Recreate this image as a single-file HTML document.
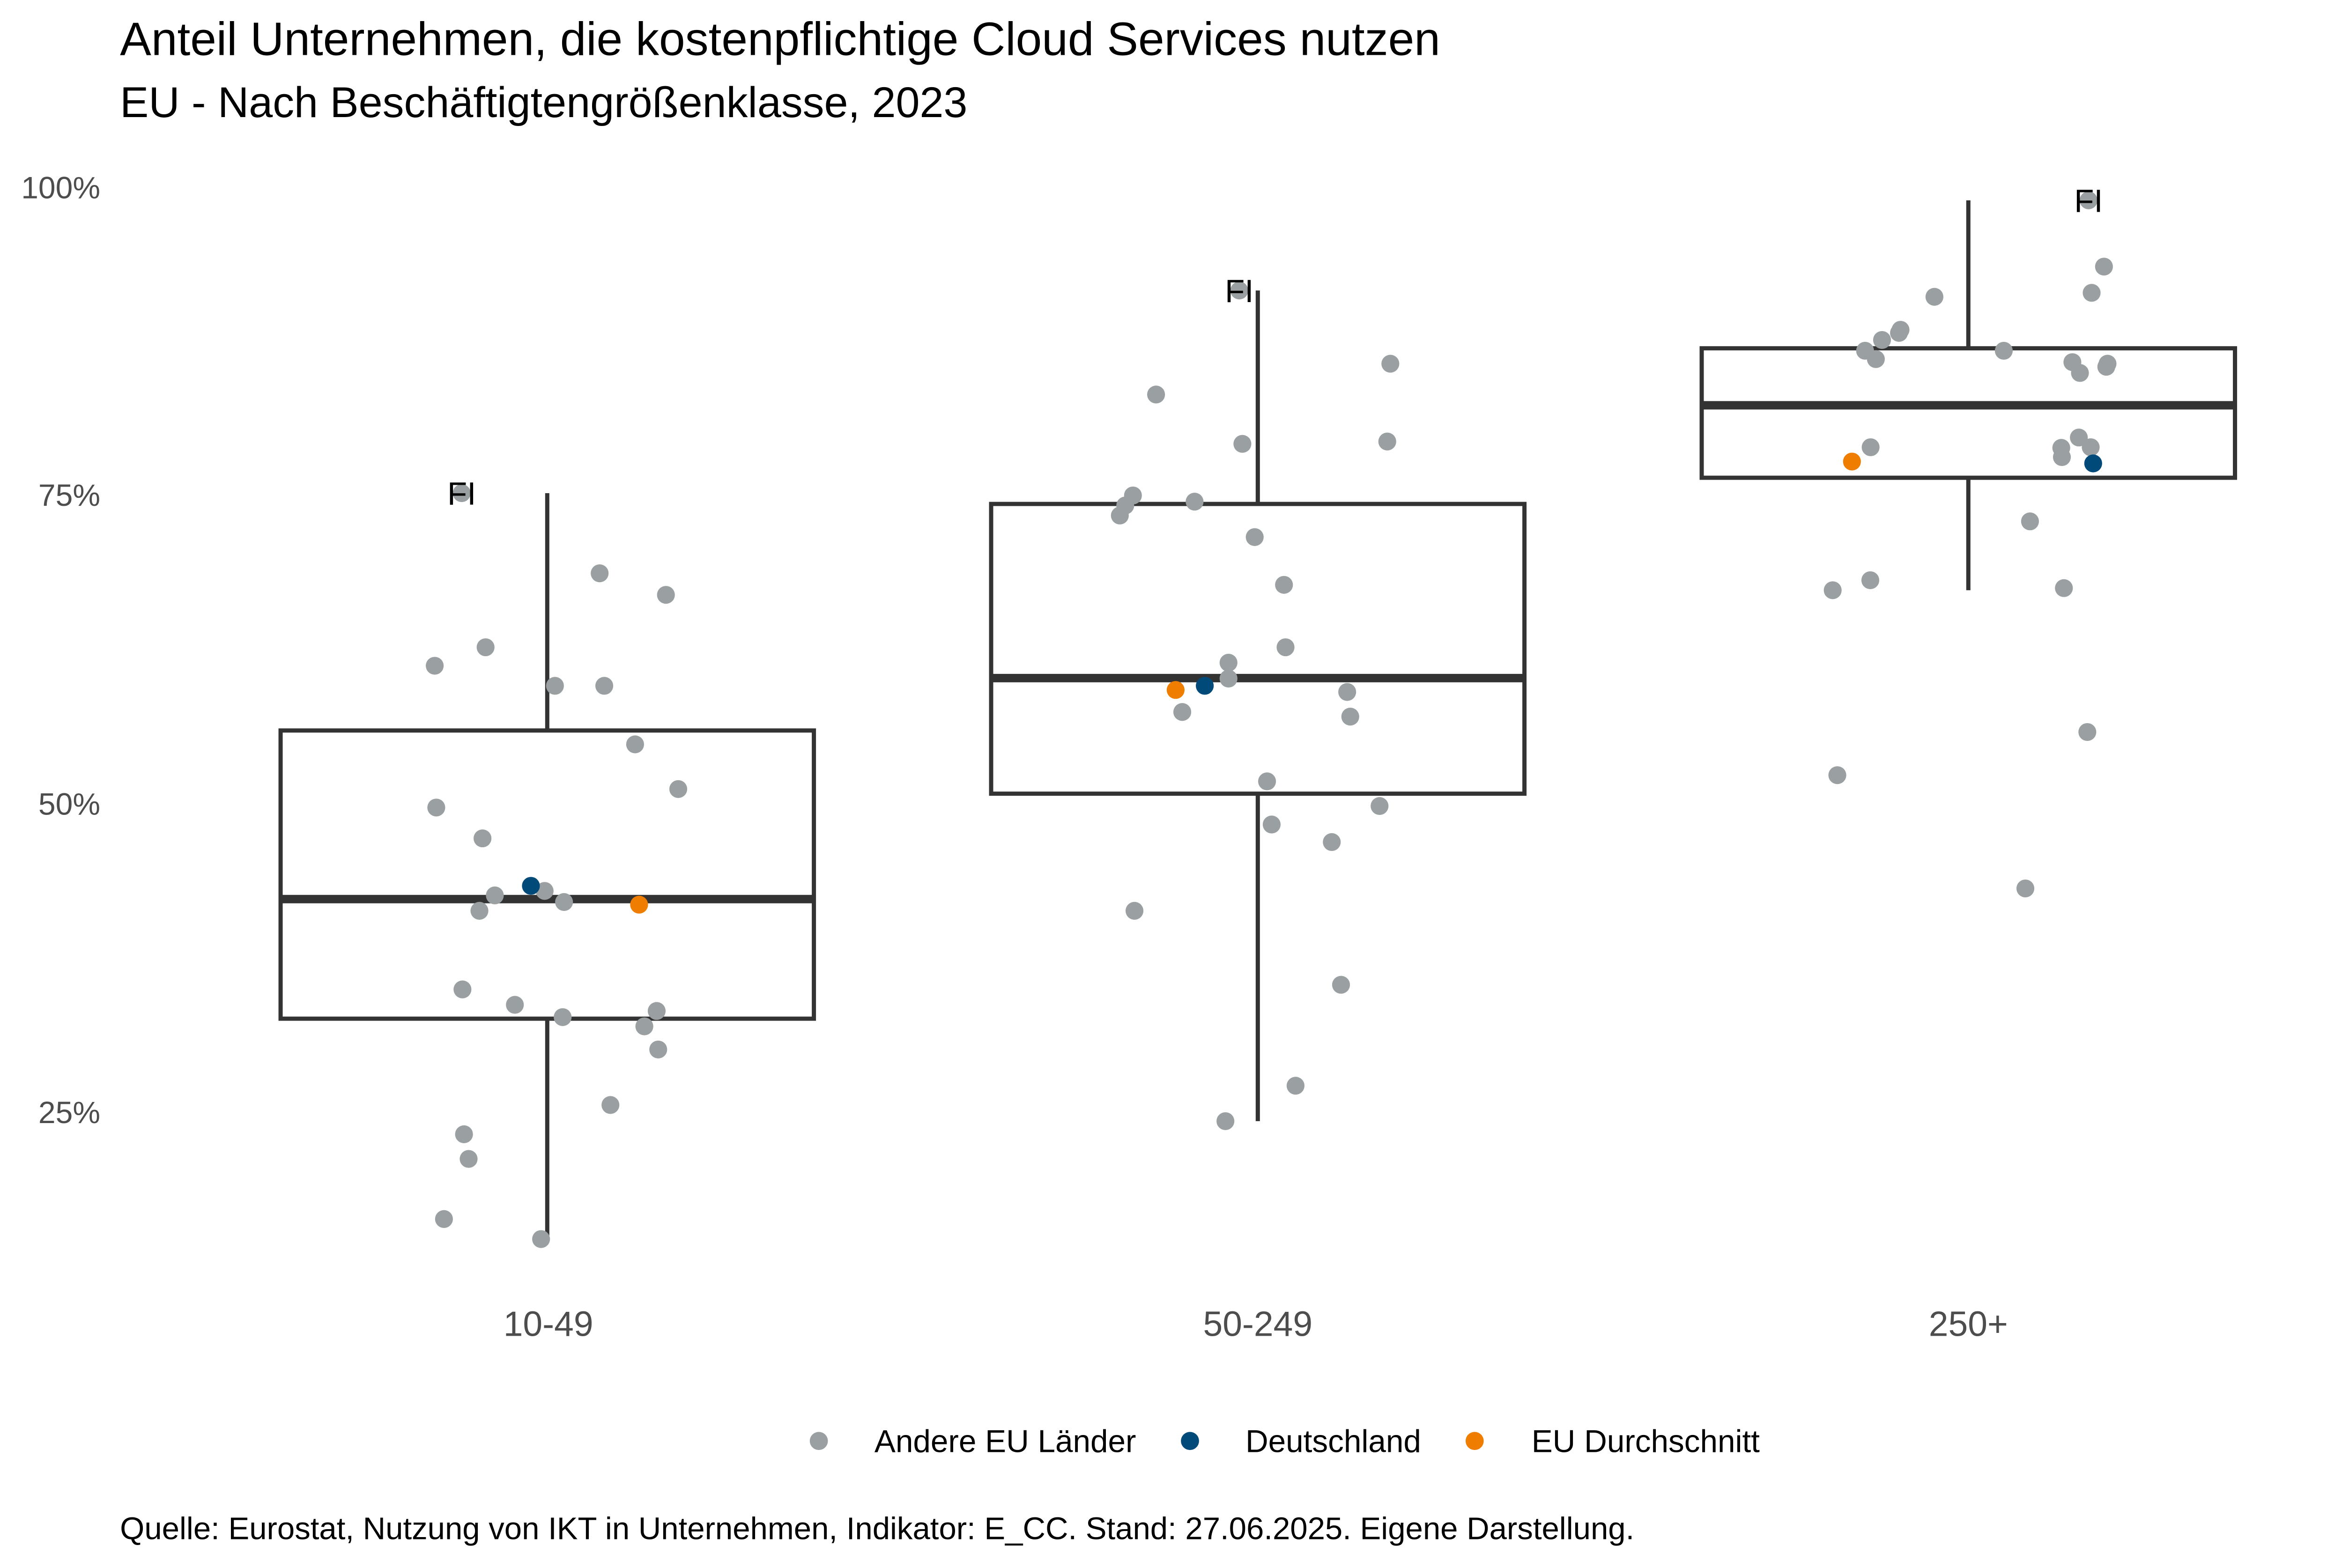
<!DOCTYPE html>
<html>
<head>
<meta charset="utf-8">
<style>
  html, body { margin: 0; padding: 0; background: #ffffff; overflow: hidden; }
  svg { display: block; }
  text { font-family: "Liberation Sans", Arial, sans-serif; }
</style>
</head>
<body>
<svg xmlns="http://www.w3.org/2000/svg" width="5160" height="3348" viewBox="0 0 1568 1017.44">
  <rect x="0" y="0" width="1568" height="1017.44" fill="#ffffff"/>

  <!-- Title / subtitle -->
  <text x="77.8" y="35.7" font-size="30.4" fill="#000000">Anteil Unternehmen, die kostenpflichtige Cloud Services nutzen</text>
  <text x="77.8" y="76.0" font-size="27.87" fill="#000000">EU - Nach Beschäftigtengrößenklasse, 2023</text>

  <!-- Y axis tick labels -->
  <g font-size="20.06" fill="#4d4d4d" text-anchor="end">
    <text x="65" y="128.7">100%</text>
    <text x="65" y="328.2">75%</text>
    <text x="65" y="528.7">50%</text>
    <text x="65" y="728.7">25%</text>
  </g>

  <!-- X axis labels -->
  <g font-size="22.8" fill="#4d4d4d" text-anchor="middle">
    <text x="355.7" y="866.9">10-49</text>
    <text x="816" y="866.9">50-249</text>
    <text x="1277" y="866.9">250+</text>
  </g>

  <!-- Boxplots -->
  <g stroke="#333333" stroke-width="2.73" fill="none">
    <!-- 10-49 -->
    <line x1="355" y1="320" x2="355" y2="474"/>
    <line x1="355" y1="661" x2="355" y2="804"/>
    <rect x="182" y="474" width="346" height="187" fill="#ffffff"/>
    <!-- 50-249 -->
    <line x1="816" y1="188.5" x2="816" y2="327"/>
    <line x1="816" y1="515" x2="816" y2="727.5"/>
    <rect x="643" y="327" width="346" height="188" fill="#ffffff"/>
    <!-- 250+ -->
    <line x1="1277" y1="130" x2="1277" y2="226"/>
    <line x1="1277" y1="310" x2="1277" y2="383"/>
    <rect x="1104" y="226" width="346" height="84" fill="#ffffff"/>
  </g>
  <g stroke="#333333" stroke-width="5.47">
    <line x1="182" y1="583.4" x2="528" y2="583.4"/>
    <line x1="643" y1="440" x2="989" y2="440"/>
    <line x1="1104" y1="263" x2="1450" y2="263"/>
  </g>

  <!-- Gray points: Andere EU Länder -->
  <g fill="#9a9fa1">
    <!-- 10-49 -->
    <circle cx="299.5" cy="320" r="5.8"/>
    <circle cx="389" cy="372" r="5.8"/>
    <circle cx="432" cy="386" r="5.8"/>
    <circle cx="315" cy="420" r="5.8"/>
    <circle cx="282" cy="432" r="5.8"/>
    <circle cx="360" cy="445" r="5.8"/>
    <circle cx="392" cy="445" r="5.8"/>
    <circle cx="412" cy="483" r="5.8"/>
    <circle cx="440" cy="512" r="5.8"/>
    <circle cx="283" cy="524" r="5.8"/>
    <circle cx="313" cy="544" r="5.8"/>
    <circle cx="353.3" cy="578.1" r="5.8"/>
    <circle cx="321" cy="581" r="5.8"/>
    <circle cx="365.9" cy="585.3" r="5.8"/>
    <circle cx="311" cy="591" r="5.8"/>
    <circle cx="300" cy="642" r="5.8"/>
    <circle cx="334" cy="652" r="5.8"/>
    <circle cx="365" cy="660" r="5.8"/>
    <circle cx="426" cy="656" r="5.8"/>
    <circle cx="418" cy="666" r="5.8"/>
    <circle cx="427" cy="681" r="5.8"/>
    <circle cx="396" cy="717" r="5.8"/>
    <circle cx="301" cy="736" r="5.8"/>
    <circle cx="304" cy="752" r="5.8"/>
    <circle cx="288" cy="791" r="5.8"/>
    <circle cx="351" cy="804" r="5.8"/>
    <!-- 50-249 -->
    <circle cx="804" cy="188.5" r="5.8"/>
    <circle cx="902" cy="236" r="5.8"/>
    <circle cx="750" cy="256" r="5.8"/>
    <circle cx="806" cy="288" r="5.8"/>
    <circle cx="900" cy="286.5" r="5.8"/>
    <circle cx="735" cy="321.5" r="5.8"/>
    <circle cx="730" cy="328" r="5.8"/>
    <circle cx="726.5" cy="334.5" r="5.8"/>
    <circle cx="775" cy="325.5" r="5.8"/>
    <circle cx="814" cy="348.5" r="5.8"/>
    <circle cx="833" cy="379.5" r="5.8"/>
    <circle cx="834" cy="420" r="5.8"/>
    <circle cx="797" cy="430" r="5.8"/>
    <circle cx="797" cy="440.3" r="5.8"/>
    <circle cx="767" cy="462" r="5.8"/>
    <circle cx="874" cy="449" r="5.8"/>
    <circle cx="876" cy="465" r="5.8"/>
    <circle cx="822" cy="507" r="5.8"/>
    <circle cx="895" cy="523" r="5.8"/>
    <circle cx="825" cy="535" r="5.8"/>
    <circle cx="864" cy="546.4" r="5.8"/>
    <circle cx="736" cy="591" r="5.8"/>
    <circle cx="870" cy="639" r="5.8"/>
    <circle cx="840.5" cy="704.5" r="5.8"/>
    <circle cx="795" cy="727.5" r="5.8"/>
    <!-- 250+ -->
    <circle cx="1355" cy="130" r="5.8"/>
    <circle cx="1365" cy="173" r="5.8"/>
    <circle cx="1357" cy="190" r="5.8"/>
    <circle cx="1255" cy="192.6" r="5.8"/>
    <circle cx="1232" cy="216" r="5.8"/>
    <circle cx="1233" cy="214" r="5.8"/>
    <circle cx="1221" cy="220.6" r="5.8"/>
    <circle cx="1210" cy="227.6" r="5.8"/>
    <circle cx="1217" cy="233" r="5.8"/>
    <circle cx="1300" cy="227.6" r="5.8"/>
    <circle cx="1344.5" cy="235" r="5.8"/>
    <circle cx="1349.4" cy="242" r="5.8"/>
    <circle cx="1367.3" cy="236" r="5.8"/>
    <circle cx="1366.5" cy="238" r="5.8"/>
    <circle cx="1213.6" cy="290.2" r="5.8"/>
    <circle cx="1348.7" cy="283.9" r="5.8"/>
    <circle cx="1337.3" cy="290.6" r="5.8"/>
    <circle cx="1337.7" cy="296.6" r="5.8"/>
    <circle cx="1356.4" cy="290.2" r="5.8"/>
    <circle cx="1317" cy="338.3" r="5.8"/>
    <circle cx="1213.4" cy="376.5" r="5.8"/>
    <circle cx="1189" cy="383" r="5.8"/>
    <circle cx="1339" cy="381.6" r="5.8"/>
    <circle cx="1354.2" cy="475" r="5.8"/>
    <circle cx="1192" cy="503" r="5.8"/>
    <circle cx="1314" cy="576.5" r="5.8"/>
  </g>

  <!-- Deutschland -->
  <g fill="#004a7a">
    <circle cx="344.4" cy="574.8" r="5.8"/>
    <circle cx="781.6" cy="445" r="5.8"/>
    <circle cx="1358" cy="300.7" r="5.8"/>
  </g>

  <!-- EU Durchschnitt -->
  <g fill="#ef7d00">
    <circle cx="414.6" cy="587" r="5.8"/>
    <circle cx="762.7" cy="447.7" r="5.8"/>
    <circle cx="1201.5" cy="299.5" r="5.8"/>
  </g>

  <!-- FI labels -->
  <g font-size="21" fill="#000000" text-anchor="middle">
    <text x="299.5" y="327.5">FI</text>
    <text x="804" y="196">FI</text>
    <text x="1355" y="137.5">FI</text>
  </g>

  <!-- Legend -->
  <circle cx="531.2" cy="935" r="5.88" fill="#9a9fa1"/>
  <text x="567.3" y="942.3" font-size="20.5" fill="#000000">Andere EU Länder</text>
  <circle cx="772" cy="935" r="5.88" fill="#004a7a"/>
  <text x="808" y="942.3" font-size="20.5" fill="#000000">Deutschland</text>
  <circle cx="956.7" cy="935" r="5.88" fill="#ef7d00"/>
  <text x="993.6" y="942.3" font-size="20.5" fill="#000000">EU Durchschnitt</text>

  <!-- Caption -->
  <text x="77.8" y="998.8" font-size="20.4" fill="#000000">Quelle: Eurostat, Nutzung von IKT in Unternehmen, Indikator: E_CC. Stand: 27.06.2025. Eigene Darstellung.</text>
</svg>
</body>
</html>
